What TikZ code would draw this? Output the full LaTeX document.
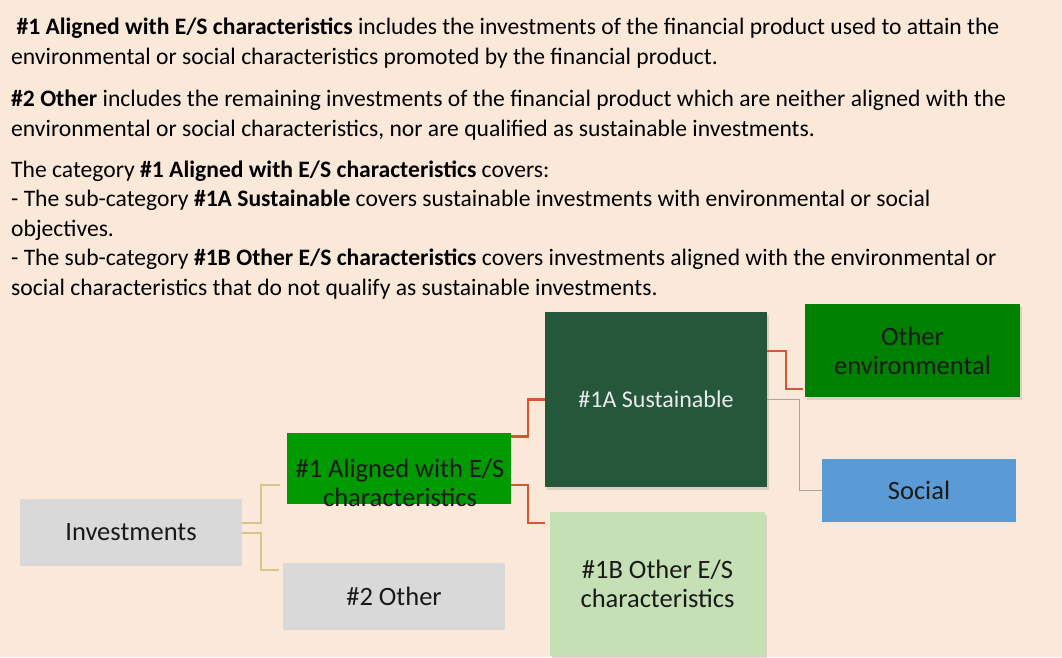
\documentclass[tikz,border=0pt]{standalone}
\usepackage{fontspec}
\setmainfont{Carlito}
\usetikzlibrary{positioning,shadows}
\definecolor{bgpeach}{RGB}{250,233,217}
\definecolor{boxgray}{RGB}{217,217,217}
\definecolor{algreen}{RGB}{0,153,0}
\definecolor{susgreen}{RGB}{37,88,59}
\definecolor{envgreen}{RGB}{0,128,0}
\definecolor{socblue}{RGB}{91,155,213}
\definecolor{oesgreen}{RGB}{197,224,180}
\definecolor{tanlink}{RGB}{214,198,140}
\definecolor{redlink}{RGB}{209,88,52}
\definecolor{graylink}{RGB}{165,165,165}

\tikzset{
  para/.style={anchor=base west, align=left, inner sep=0pt, font=\fontsize{23.6}{29.5}\selectfont},
  box/.style={rectangle, inner sep=0pt, align=center, text=black!90, font=\fontsize{26.5}{29}\selectfont},
  shade/.style={drop shadow={shadow xshift=2pt, shadow yshift=-3pt, opacity=0.25}},
  tanline/.style={draw=tanlink, line width=2pt},
  redline/.style={draw=redlink, line width=2.5pt},
  grayline/.style={draw=graylink, line width=1.2pt}
}

\begin{document}
\begin{tikzpicture}[x=1pt,y=-1pt]
  \fill[bgpeach] (0,0) rectangle (1062,657);
  \useasboundingbox (0,0) rectangle (1062,657);

  % explanatory text (placed by the baseline of the last line)
  \node[para] (p1) at (11,64) {\ \textbf{\#1 Aligned with E/S characteristics} includes the investments of the financial product used to attain the\\
    environmental or social characteristics promoted by the financial product.};
  \node[para] (p2) at (11,136) {\textbf{\#2 Other} includes the remaining investments of the financial product which are neither aligned with the\\
    environmental or social characteristics, nor are qualified as sustainable investments.};
  \node[para] (p3) at (11,295) {The category \textbf{\#1 Aligned with E/S characteristics} covers:\\
    - The sub-category \textbf{\#1A Sustainable} covers sustainable investments with environmental or social\\
    objectives.\\
    - The sub-category \textbf{\#1B Other E/S characteristics} covers investments aligned with the environmental or\\
    social characteristics that do not qualify as sustainable investments.};

  % boxes
  \node[box, fill=boxgray, minimum width=222, minimum height=67] (inv) at (131,532.5) {Investments};
  \node[box, fill=algreen, minimum width=224, minimum height=71] (al) at (399,468.5) {};
  \node[box] (altext) at (400,482.5) {\#1 Aligned with E/S\\characteristics};
  \node[box, fill=boxgray, minimum width=222, minimum height=67] (oth) at (394,596.5) {\#2 Other};
  \node[box, shade, fill=susgreen, text=white!92!black, font=\fontsize{24}{29}\selectfont,
        minimum width=222, minimum height=175] (sus) at (656,399.5) {\#1A Sustainable};
  \node[box, shade, fill=oesgreen, minimum width=215, minimum height=144] (oes) at (657.5,584) {\#1B Other E/S\\characteristics};
  \node[box, shade, fill=envgreen, minimum width=215, minimum height=93] (env) at (912.5,350.5) {Other\\environmental};
  \node[box, fill=socblue, minimum width=194, minimum height=63] (soc) at (919,490.5) {Social};

  % connectors
  \draw[tanline] ([yshift=10]inv.east) -- ++(19,0) |- ([xshift=-7,yshift=-16]al.west);
  \draw[tanline] (inv.east) -- ++(19,0) |- ([xshift=-4,yshift=26.5]oth.west);
  \draw[redline] ([yshift=32]al.east) -- ++(17,0) |- (sus.west);
  \draw[redline] ([yshift=-16.5]al.east) -- ++(17,0) |- ([xshift=-5,yshift=61]oes.west);
  \draw[redline] ([yshift=48.5]sus.east) -- ++(19,0) |- ([xshift=-2,yshift=-38.5]env.west);
  \draw[grayline] (sus.east) -- ++(32,0) |- (soc.west);
\end{tikzpicture}
\end{document}
